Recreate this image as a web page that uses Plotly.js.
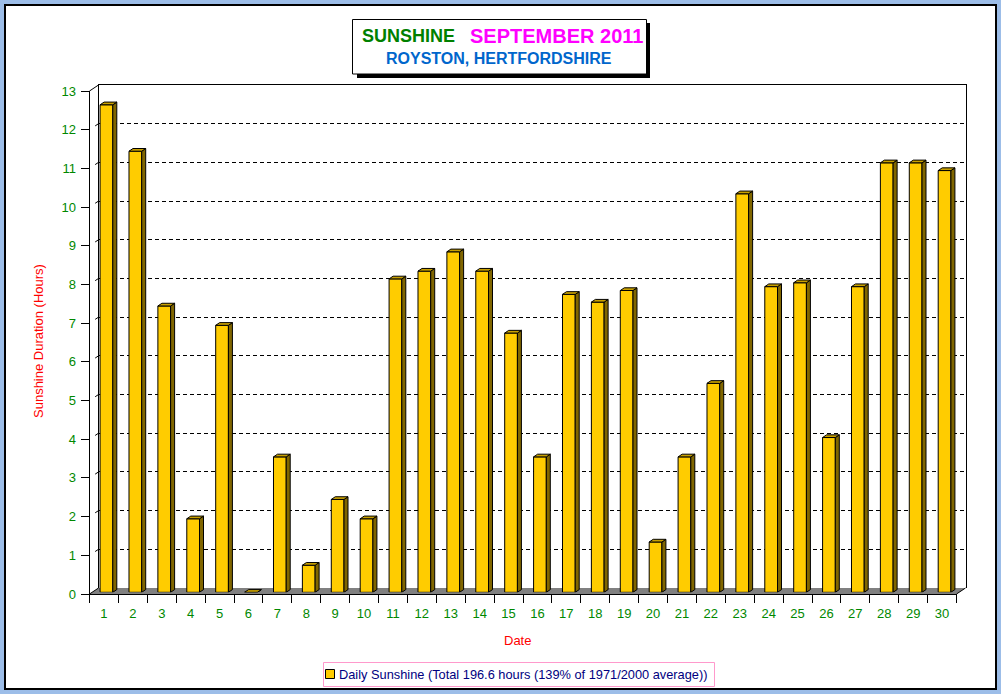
<!DOCTYPE html>
<html><head><meta charset="utf-8">
<script src="https://cdn.plot.ly/plotly-3.0.1.min.js"></script>
<style>html,body{margin:0;padding:0;background:#9CBDE8;}#chart{width:1001px;height:694px;}</style>
</head><body><div id="chart"></div>
<script>
// ---- data ----
const days = ['1','2','3','4','5','6','7','8','9','10','11','12','13','14','15','16','17','18','19','20','21','22','23','24','25','26','27','28','29','30'];
const sunshine = [12.6, 11.4, 7.4, 1.9, 6.9, 0.0, 3.5, 0.7, 2.4, 1.9, 8.1, 8.3, 8.8, 8.3, 6.7, 3.5, 7.7, 7.5, 7.8, 1.3, 3.5, 5.4, 10.3, 7.9, 8.0, 4.0, 7.9, 11.1, 11.1, 10.9];
const yTicks = [0,1,2,3,4,5,6,7,8,9,10,11,12,13];
const seriesName = 'Daily Sunshine (Total 196.6 hours (139% of 1971/2000 average))';
const titleA = 'SUNSHINE';
const titleB = 'SEPTEMBER 2011';
const titleC = 'ROYSTON, HERTFORDSHIRE';
const yTitle = 'Sunshine Duration (Hours)';
const xTitle = 'Date';

// ---- geometry (pixels) ----
const W = 1001, H = 694;
const PX = p => p / W, PY = p => 1 - p / H;
const F = {l: 89.5, r: 956.5, t: 91, b: 594};
const DX = 9, DY = 6;       // depth of back wall
const BX = 2.5, BY = 1.7;   // bar front-face offset
const yMax = yTicks[yTicks.length - 1];
const FONT = '"Liberation Sans", Arial, sans-serif';
const GREEN = '#008800';
const BAR_COLOR = '#FFCC00';

const xNum = days.map((d, i) => i + 1);
const barW = 0.44;
const pxPerX = (F.r - F.l) / days.length;
const pxPerY = (F.b - F.t) / yMax;
const sX = 4 / pxPerX, sY = 2.7 / pxPerY;

// side & cap polygons derived from the data
const sideX = [], sideY = [], capX = [], capY = [];
xNum.forEach((x, i) => {
  const v = sunshine[i], xl = x - barW / 2, xr = x + barW / 2;
  sideX.push(xr, xr, xr + sX, xr + sX, xr, null);
  sideY.push(0, v, v + sY, sY, 0, null);
  capX.push(xl, xl + sX, xr + sX, xr, xl, null);
  capY.push(v, v + sY, v + sY, v, v, null);
});

const traces = [
  {type: 'scatter', x: [null], y: [null], xaxis: 'x', yaxis: 'y', showlegend: false, hoverinfo: 'skip'},
  {type: 'bar', x: xNum, y: sunshine, width: barW, xaxis: 'x2', yaxis: 'y2', name: seriesName,
   marker: {color: BAR_COLOR, line: {color: '#000000', width: 1}}, showlegend: false, hoverinfo: 'skip'},
  {type: 'scatter', mode: 'lines', x: sideX, y: sideY, xaxis: 'x2', yaxis: 'y2', fill: 'toself',
   fillcolor: '#806600', line: {color: '#000000', width: 1}, showlegend: false, hoverinfo: 'skip'},
  {type: 'scatter', mode: 'lines', x: capX, y: capY, xaxis: 'x2', yaxis: 'y2', fill: 'toself',
   fillcolor: '#C8A000', line: {color: '#000000', width: 1}, showlegend: false, hoverinfo: 'skip'},
  {type: 'scatter', mode: 'markers', x: days, y: sunshine, xaxis: 'x3', yaxis: 'y3',
   marker: {size: 1, opacity: 0}, showlegend: false, hoverinfo: 'skip'}
];

const shapes = [
  {type: 'rect', xref: 'paper', yref: 'paper', layer: 'below', x0: PX(5), x1: PX(996), y0: PY(5), y1: PY(689),
   fillcolor: '#FFFFFF', line: {color: '#000000', width: 2}},
  {type: 'path', xref: 'paper', yref: 'paper', layer: 'below',
   path: `M${PX(F.l)},${PY(F.b)} L${PX(F.l+DX)},${PY(F.b-DY)} L${PX(F.r+DX)},${PY(F.b-DY)} L${PX(F.r)},${PY(F.b)} Z`,
   fillcolor: '#808080', line: {width: 0}},
  {type: 'line', xref: 'paper', yref: 'paper', x0: PX(F.l), y0: PY(F.b), x1: PX(F.l+DX), y1: PY(F.b-DY), line: {color: '#000', width: 1}},
  {type: 'line', xref: 'paper', yref: 'paper', x0: PX(F.r), y0: PY(F.b), x1: PX(F.r+DX), y1: PY(F.b-DY), line: {color: '#000', width: 1}},
  {type: 'line', xref: 'paper', yref: 'paper', x0: PX(F.l), y0: PY(F.t), x1: PX(F.l+DX), y1: PY(F.t-DY), line: {color: '#000', width: 1}},
  // title box with shadow
  {type: 'rect', xref: 'paper', yref: 'paper', x0: PX(357), x1: PX(650), y0: PY(23), y1: PY(78), fillcolor: '#000000', line: {width: 0}},
  {type: 'rect', xref: 'paper', yref: 'paper', x0: PX(352.5), x1: PX(646.5), y0: PY(19.5), y1: PY(74), fillcolor: '#FFFFFF', line: {color: '#000', width: 1}},
  // legend box and key
  {type: 'rect', xref: 'paper', yref: 'paper', x0: PX(323.5), x1: PX(714.5), y0: PY(662.5), y1: PY(686.5), fillcolor: '#FFFFFF', line: {color: '#FF99CC', width: 1}},
  {type: 'rect', xref: 'paper', yref: 'paper', x0: PX(325.5), x1: PX(334.5), y0: PY(669.5), y1: PY(678.5), fillcolor: BAR_COLOR, line: {color: '#000', width: 1}}
];
yTicks.slice(1, -1).forEach(k => {
  const yf = F.b - k * pxPerY;
  shapes.push({type: 'line', xref: 'paper', yref: 'paper', x0: PX(F.l+DX), y0: PY(yf-DY), x1: PX(F.l), y1: PY(yf),
    line: {color: '#000', width: 1, dash: '4px,20px'}});
});

const layout = {
  width: W, height: H,
  margin: {l: 0, r: 0, t: 0, b: 0},
  paper_bgcolor: '#9CBDE8', plot_bgcolor: 'rgba(0,0,0,0)',
  font: {family: FONT, size: 13, color: '#000'},
  showlegend: false,
  xaxis: {domain: [PX(F.l+DX), PX(F.r+DX)], range: [0.5, days.length + 0.5], anchor: 'y', side: 'top',
    showline: true, linecolor: '#000', linewidth: 1, showgrid: false, zeroline: false, showticklabels: false, ticks: '', fixedrange: true},
  yaxis: {domain: [PY(F.b-DY), PY(F.t-DY)], range: [0, yMax], anchor: 'x', tickvals: yTicks.slice(1),
    showline: true, mirror: true, linecolor: '#000', linewidth: 1, showgrid: true, gridcolor: '#000', gridwidth: 1,
    griddash: '4px,3px', zeroline: false, showticklabels: false, ticks: '', fixedrange: true},
  xaxis2: {domain: [PX(F.l+BX), PX(F.r+BX)], range: [0.5, days.length + 0.5], anchor: 'y2', visible: false, fixedrange: true},
  yaxis2: {domain: [PY(F.b-BY), PY(F.t-BY)], range: [0, yMax], anchor: 'x2', visible: false, fixedrange: true},
  xaxis3: {domain: [PX(F.l), PX(F.r)], type: 'category', categoryorder: 'array', categoryarray: days,
    range: [-0.5, days.length - 0.5], anchor: 'y3', tickson: 'boundaries', ticks: 'outside', ticklen: 8,
    tickcolor: '#000', tickwidth: 1, showline: true, linecolor: '#000', linewidth: 1, showgrid: false, zeroline: false,
    tickfont: {family: FONT, size: 13, color: GREEN}, ticklabelstandoff: 7, fixedrange: true},
  yaxis3: {domain: [PY(F.b), PY(F.t)], range: [0, yMax], anchor: 'x3', tickvals: yTicks, ticks: 'outside', ticklen: 8,
    tickcolor: '#000', tickwidth: 1, showline: true, linecolor: '#000', linewidth: 1, showgrid: false, zeroline: false,
    tickfont: {family: FONT, size: 13, color: GREEN}, ticklabelstandoff: 2, fixedrange: true},
  shapes: shapes,
  annotations: [
    {xref: 'paper', yref: 'paper', x: PX(408), y: PY(36), text: titleA, showarrow: false, xanchor: 'center', yanchor: 'middle',
     font: {family: FONT, size: 18, color: '#008000', weight: 'bold'}},
    {xref: 'paper', yref: 'paper', x: PX(556), y: PY(36), text: titleB, showarrow: false, xanchor: 'center', yanchor: 'middle',
     font: {family: FONT, size: 20, color: '#FF00FF', weight: 'bold'}},
    {xref: 'paper', yref: 'paper', x: PX(499), y: PY(58), text: titleC, showarrow: false, xanchor: 'center', yanchor: 'middle',
     font: {family: FONT, size: 16, color: '#0066CC', weight: 'bold'}},
    {xref: 'paper', yref: 'paper', x: PX(38), y: PY(341), text: yTitle, textangle: -90, showarrow: false, xanchor: 'center', yanchor: 'middle',
     font: {family: FONT, size: 13, color: '#FF0000'}},
    {xref: 'paper', yref: 'paper', x: PX(517), y: PY(640), text: xTitle, showarrow: false, xanchor: 'center', yanchor: 'middle',
     font: {family: FONT, size: 13, color: '#FF0000'}},
    {xref: 'paper', yref: 'paper', x: PX(337), y: PY(674), text: seriesName, showarrow: false, xanchor: 'left', yanchor: 'middle',
     font: {family: FONT, size: 12.8, color: '#000080'}}
  ]
};

Plotly.newPlot('chart', traces, layout, {staticPlot: true, displayModeBar: false});
</script>
</body></html>
